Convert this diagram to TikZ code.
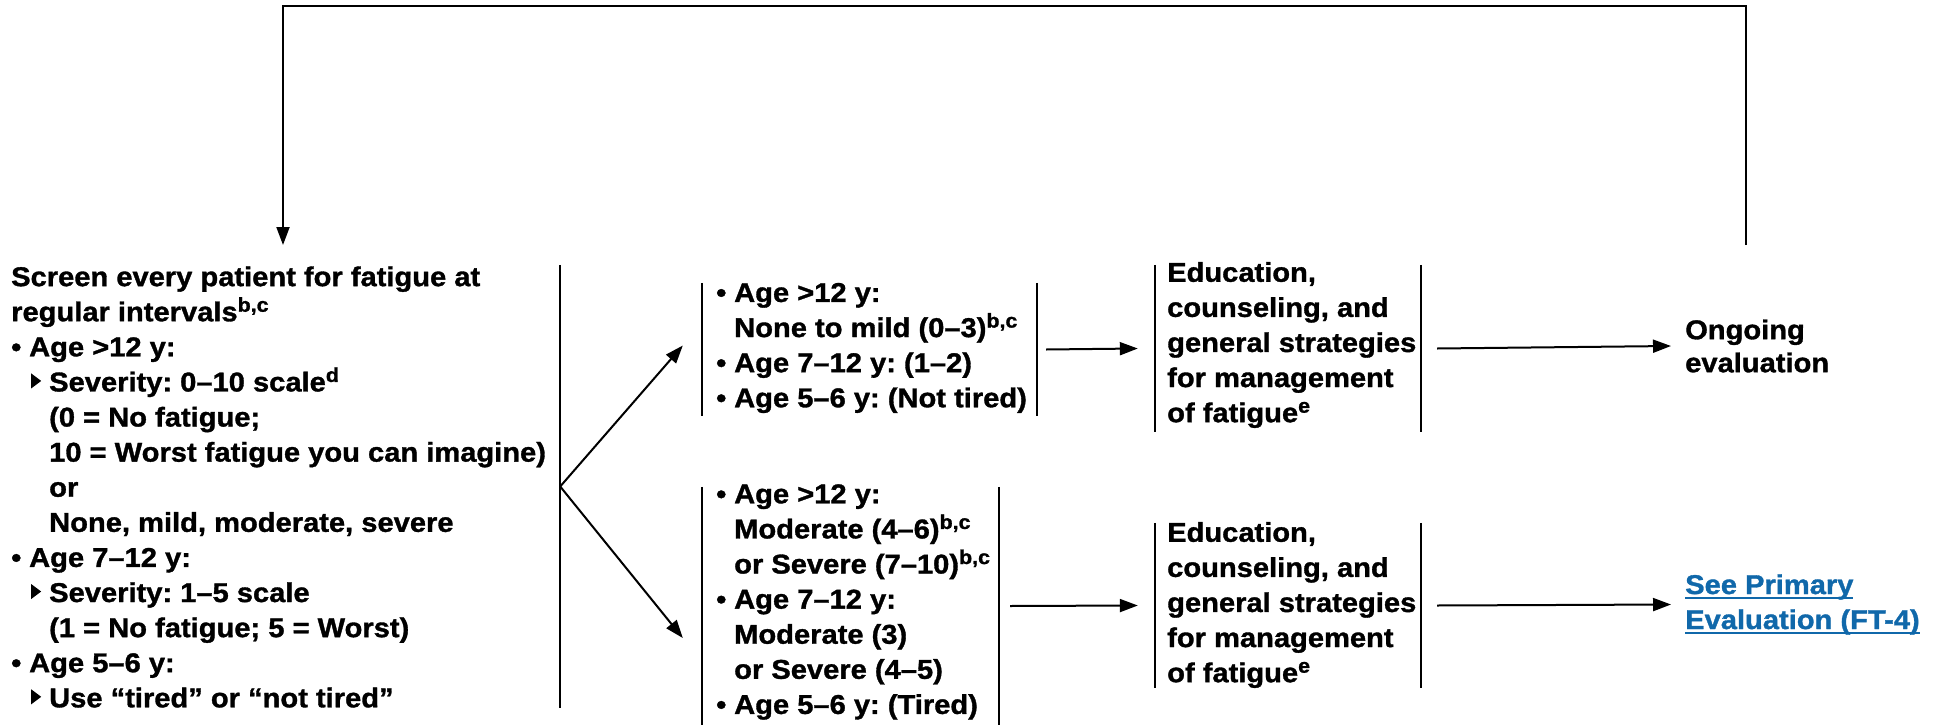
\documentclass[tikz,border=0pt]{standalone}
\usepackage{fontspec}
\setmainfont{Liberation Sans}[FakeStretch=1.07, BoldFeatures={FakeBold=1.2}]
\usetikzlibrary{arrows.meta,fit}
\definecolor{lnkblue}{RGB}{16,104,170}
\frenchspacing
\newcommand\bul{\makebox[18pt][l]{•}}
\newcommand\tri{\tikz[baseline=0pt]\fill (0pt,3pt)--(0pt,18pt)--(10pt,10.5pt)--cycle;}
\newcommand\subb{\hspace*{20pt}\makebox[18pt][l]{\tri}}
\newcommand\ind{\hspace*{38pt}}
\newcommand\indb{\hspace*{18pt}}
\newcommand\sups[1]{\raisebox{9.5pt}{\fontsize{20pt}{20pt}\selectfont #1}}
\newcommand\lnk[1]{\setbox0\hbox{#1}\rlap{\rule[-4.5pt]{\wd0}{2pt}}\box0}
\tikzset{
  ln/.style={line width=2pt},
  arr/.style={line width=2pt, -{Triangle[length=18pt,width=13pt]}},
  bar/.style={line width=2pt},
  txt/.style={inner sep=0pt, align=left, anchor=west, font=\fontsize{27.2pt}{35.1pt}\selectfont\bfseries},
  region/.style={inner sep=0pt}
}
\begin{document}
\begin{tikzpicture}[x=1pt,y=-1pt]
\useasboundingbox (0,0) rectangle (1940,725);
% regions (bar boxes)
\node[region, fit={(300,265)(560,708)}] (scrbox) {};
\node[region, fit={(702,283)(1037,416)}] (u1) {};
\node[region, fit={(702,487)(999,725)}] (l1) {};
\node[region, fit={(1155,265)(1421,432)}] (e1) {};
\node[region, fit={(1155,523)(1421,688)}] (e2) {};
% bars
\draw[bar] (scrbox.north east) -- (scrbox.south east);
\draw[bar] (u1.north west) -- (u1.south west) (u1.north east) -- (u1.south east);
\draw[bar] (l1.north west) -- (l1.south west) (l1.north east) -- (l1.south east);
\draw[bar] (e1.north west) -- (e1.south west) (e1.north east) -- (e1.south east);
\draw[bar] (e2.north west) -- (e2.south west) (e2.north east) -- (e2.south east);
% texts
\node[txt] (scr) at (11,487) {Screen every patient for fatigue at\\
regular intervals\sups{b,c}\\
\bul Age >12 y:\\
\subb Severity: 0–10 scale\sups{d}\\
\ind (0 = No fatigue;\\
\ind 10 = Worst fatigue you can imagine)\\
\ind or\\
\ind None, mild, moderate, severe\\
\bul Age 7–12 y:\\
\subb Severity: 1–5 scale\\
\ind (1 = No fatigue; 5 = Worst)\\
\bul Age 5–6 y:\\
\subb Use “tired” or “not tired”};
\node[txt] (u1t) at (716,348) {\bul Age >12 y:\\
\indb None to mild (0–3)\sups{b,c}\\
\bul Age 7–12 y: (1–2)\\
\bul Age 5–6 y: (Not tired)};
\node[txt] (l1t) at (716,602) {\bul Age >12 y:\\
\indb Moderate (4–6)\sups{b,c}\\
\indb or Severe (7–10)\sups{b,c}\\
\bul Age 7–12 y:\\
\indb Moderate (3)\\
\indb or Severe (4–5)\\
\bul Age 5–6 y: (Tired)};
\node[txt] (e1t) at (1167,345) {Education,\\counseling, and\\general strategies\\for management\\of fatigue\sups{e}};
\node[txt] (e2t) at (1167,605) {Education,\\counseling, and\\general strategies\\for management\\of fatigue\sups{e}};
\node[txt, font=\fontsize{27.2pt}{33pt}\selectfont\bfseries] (ong) at (1685,346) {Ongoing\\evaluation};
\node[txt, text=lnkblue, font=\fontsize{27.2pt}{35pt}\selectfont\bfseries] (see) at (1685,604.5) {\lnk{See Primary}\\\lnk{Evaluation (FT-4)}};
% connectors
\draw[arr] (scrbox.east) -- ([xshift=-19pt,yshift=4pt]u1.west);
\draw[arr] (scrbox.east) -- ([xshift=-19pt,yshift=-32pt]l1.west);
\draw[arr] ([xshift=9pt]u1.east) -- ([xshift=-17pt]e1.west);
\draw[arr] ([xshift=11pt]l1.east) -- ([xshift=-17pt]e2.west);
\draw[arr] ([xshift=16pt]e1.east) -- ([xshift=-14pt]ong.west);
\draw[arr] ([xshift=16pt]e2.east) -- ([xshift=-14pt]see.west);
% feedback loop
\coordinate (loopR) at (1746,245);
\coordinate (topR) at (1746,6);
\coordinate (topL) at (283,6);
\coordinate (loopL) at (283,245);
\draw[arr] (loopR) -- (topR) -- (topL) -- (loopL);
\end{tikzpicture}
\end{document}
